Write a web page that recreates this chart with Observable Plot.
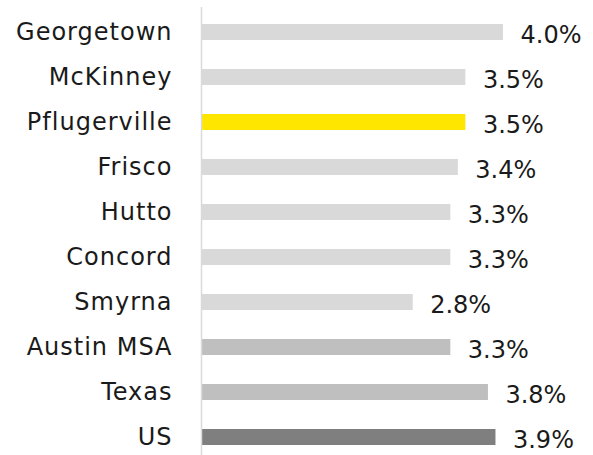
<!DOCTYPE html>
<html>
<head>
<meta charset="utf-8">
<script src="https://cdn.jsdelivr.net/npm/d3@7"></script>
<script src="https://cdn.jsdelivr.net/npm/@observablehq/plot@0.6"></script>
<style>
  html, body { margin: 0; padding: 0; background: #fff; }
  #chart svg { display: block; }
</style>
</head>
<body>
<div id="chart"></div>
<script>
const cities = ["Georgetown", "McKinney", "Pflugerville", "Frisco", "Hutto", "Concord", "Smyrna", "Austin MSA", "Texas", "US"];
const growth = [4.0, 3.5, 3.5, 3.4, 3.3, 3.3, 2.8, 3.3, 3.8, 3.9];
const barColors = ["#d9d9d9", "#d9d9d9", "#ffe600", "#d9d9d9", "#d9d9d9", "#d9d9d9", "#d9d9d9", "#bfbfbf", "#bfbfbf", "#7f7f7f"];

const data = cities.map((c, i) => ({ city: c, value: growth[i], color: barColors[i] }));

const chart = Plot.plot({
  width: 593,
  height: 455,
  marginTop: 7,
  marginBottom: 0,
  marginLeft: 202,
  marginRight: 0,
  style: { fontFamily: "DejaVu Sans", background: "#fff" },
  x: { domain: [0, 4], range: [202, 503], axis: null },
  y: { domain: cities, range: [6, 463], paddingInner: 0.65, paddingOuter: 0.325, axis: null },
  marks: [
    Plot.barX(data, { x: "value", y: "city", fill: "color" }),
    Plot.ruleX([0], { stroke: "#d9d9de", strokeWidth: 1.5, dx: -1 }),
    Plot.text(data, {
      x: () => 0, y: "city", text: "city",
      textAnchor: "end", dx: -30, fontSize: 24, fill: "#1a1a1a"
    }),
    Plot.text(data, {
      x: "value", y: "city", text: d => d.value.toFixed(1) + "%",
      textAnchor: "start", dx: 17, dy: 3, fontSize: 24, fill: "#1a1a1a"
    })
  ]
});
const textGroups = chart.querySelectorAll('g[aria-label="text"]');
if (textGroups.length) textGroups[0].style.letterSpacing = "1px";
document.getElementById("chart").appendChild(chart);
</script>
</body>
</html>
